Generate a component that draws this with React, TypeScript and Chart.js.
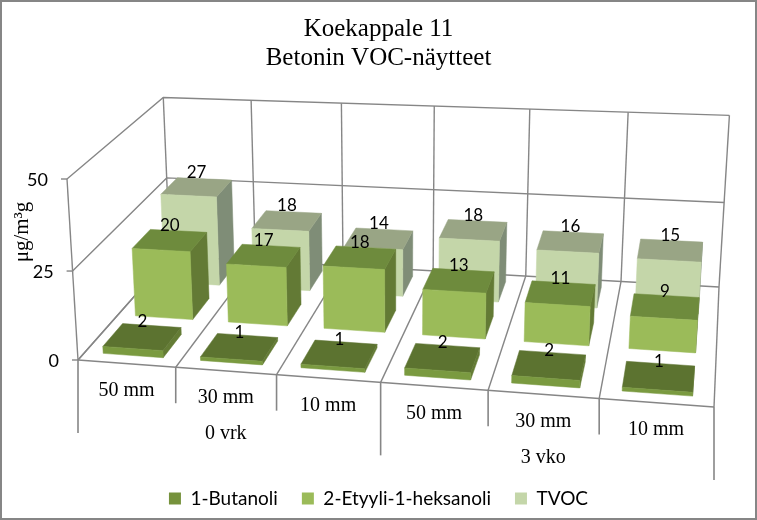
import { useEffect, useRef } from 'react'
import Chart from 'chart.js/auto'

const categories = ['50 mm', '30 mm', '10 mm', '50 mm', '30 mm', '10 mm']
const groups = ['0 vrk', '3 vko']
const butanoli = [2, 1, 1, 2, 2, 1]
const heksanoli = [20, 17, 18, 13, 11, 9]
const tvoc = [27, 18, 14, 18, 16, 15]
const yTicks = [0, 25, 50]

const GRID = '#868686'
const SERIF = '"Liberation Serif"'
const SANS = 'Lato'

// front, top and side colours per series
const faces = [
  { front: '#7A9A40', top: '#5C7330', side: '#647C35' },
  { front: '#9BBB59', top: '#6E8B3D', side: '#637A35' },
  { front: '#C4D6A9', top: '#99A585', side: '#7F8D77' },
]

// Corners of the 3D box in the picture: floor front-left, front-right, back-right, back-left
const floor = [[78, 360], [714, 407], [719, 287], [170, 256]]
const frontLeftTop = [67, 179]
const backRightTop = [729, 122]

const makeProjection = () => {
  const [[x0, y0], [x1, y1], [x2, y2], [x3, y3]] = floor
  const dx1 = x1 - x2, dx2 = x3 - x2, sx = x0 - x1 + x2 - x3
  const dy1 = y1 - y2, dy2 = y3 - y2, sy = y0 - y1 + y2 - y3
  const den = dx1 * dy2 - dx2 * dy1
  const g = (sx * dy2 - dx2 * sy) / den
  const h = (dx1 * sy - sx * dy1) / den
  const a = x1 - x0 + g * x1, b = x3 - x0 + h * x3, c = x0
  const d = y1 - y0 + g * y1, e = y3 - y0 + h * y3, f = y0

  // vanishing point of the verticals, from the two outer wall edges
  const m1 = (frontLeftTop[0] - x0) / (frontLeftTop[1] - y0)
  const m2 = (backRightTop[0] - x2) / (backRightTop[1] - y2)
  const vpY = (x2 - m2 * y2 - x0 + m1 * y0) / (m1 - m2)
  const vpX = x0 + m1 * (vpY - y0)
  const lambda = (frontLeftTop[1] - y0) / (vpY - frontLeftTop[1])

  return (u: number, v: number, w: number) => {
    const z = g * u + h * v + lambda * w + 1
    return [(a * u + b * v + lambda * vpX * w + c) / z, (d * u + e * v + lambda * vpY * w + f) / z]
  }
}

const project = makeProjection()

const chart3d = {
  id: 'chart3d',
  beforeDatasetsDraw(chart: any) {
    const { ctx, chartArea: area, scales } = chart
    const n = categories.length
    const toU = (px: number) => (px - area.left) / area.width
    const toW = (px: number) => (area.bottom - px) / area.height

    const line = (pts: number[][], color = GRID, width = 1.4) => {
      ctx.beginPath()
      pts.forEach(([x, y], i) => (i ? ctx.lineTo(x, y) : ctx.moveTo(x, y)))
      ctx.strokeStyle = color
      ctx.lineWidth = width
      ctx.stroke()
    }
    const poly = (pts: number[][], color: string) => {
      ctx.beginPath()
      pts.forEach(([x, y], i) => (i ? ctx.lineTo(x, y) : ctx.moveTo(x, y)))
      ctx.closePath()
      ctx.fillStyle = color
      ctx.fill()
      ctx.strokeStyle = color
      ctx.lineWidth = 0.5
      ctx.stroke()
    }

    ctx.save()

    // walls and floor
    yTicks.forEach((t) => {
      const w = toW(scales.y.getPixelForValue(t))
      line([project(0, 0, w), project(0, 1, w), project(1, 1, w)])
      const p = project(0, 0, w)
      line([[p[0] - 6, p[1]], p])
      ctx.fillStyle = '#000'
      ctx.font = `18px ${SANS}`
      ctx.textAlign = 'right'
      ctx.textBaseline = 'middle'
      ctx.fillText(String(t), p[0] - 19, p[1] + 1)
    })
    line([project(0, 0, 0), project(0, 0, 1)])
    for (let i = 0; i <= n; i++) {
      const u = i / n
      line([project(u, 1, 0), project(u, 1, 1)])
      line([project(u, 0, 0), project(u, 1, 0)])
    }
    line([project(0, 0, 0), project(1, 0, 0)])

    // category axis below the floor
    for (let i = 0; i <= n; i++) {
      const p = project(i / n, 0, 0)
      line([p, [p[0], p[1] + (i % 3 === 0 ? 73 : 36)]], GRID, 1.6)
    }
    ctx.fillStyle = '#000'
    ctx.textAlign = 'center'
    ctx.textBaseline = 'middle'
    ctx.font = `20px ${SERIF}`
    categories.forEach((label, i) => {
      const p = project((i + 0.5) / n, 0, 0)
      ctx.fillText(label, p[0], p[1] + 27)
    })
    groups.forEach((label, i) => {
      const p = project((i * 3 + 1.5) / n, 0, 0)
      ctx.fillText(label, p[0], p[1] + 63)
    })

    // axis title
    ctx.save()
    ctx.translate(22, 232)
    ctx.rotate(-Math.PI / 2)
    ctx.font = `21px ${SERIF}`
    ctx.fillText('μg/m³g', 0, 0)
    ctx.restore()

    // bars, back row first
    const labels: { text: string; x: number; y: number }[] = []
    const slot = 1 / 3
    const barDepth = slot * 0.6
    for (let s = 2; s >= 0; s--) {
      const meta = chart.getDatasetMeta(s)
      const v0 = (s + 0.5) * slot - barDepth / 2
      const v1 = v0 + barDepth
      meta.data.forEach((bar: any, i: number) => {
        const u0 = toU(bar.x - bar.width / 2)
        const u1 = toU(bar.x + bar.width / 2)
        const top = toW(bar.y)
        poly([project(u1, v0, 0), project(u1, v1, 0), project(u1, v1, top), project(u1, v0, top)], faces[s].side)
        poly([project(u0, v0, top), project(u1, v0, top), project(u1, v1, top), project(u0, v1, top)], faces[s].top)
        poly([project(u0, v0, 0), project(u1, v0, 0), project(u1, v0, top), project(u0, v0, top)], faces[s].front)
        const c = project((u0 + u1) / 2, (v0 + v1) / 2, top)
        labels.push({ text: String(chart.data.datasets[s].data[i]), x: c[0], y: c[1] - 15 })
      })
    }
    ctx.fillStyle = '#000'
    ctx.font = `17px ${SANS}`
    labels.forEach((l) => ctx.fillText(l.text, l.x, l.y))

    ctx.restore()
    return false
  },
  afterDraw(chart: any) {
    const { ctx, width, height } = chart
    ctx.save()
    ctx.strokeStyle = GRID
    ctx.lineWidth = 3
    ctx.strokeRect(0.5, 0.5, width - 1, height - 1)
    ctx.restore()
  },
}

export default function App() {
  const canvasRef = useRef<HTMLCanvasElement>(null)

  useEffect(() => {
    if (!canvasRef.current) return
    const chart = new Chart(canvasRef.current, {
      type: 'bar',
      data: {
        labels: categories,
        datasets: [
          { label: '1-Butanoli', data: butanoli, backgroundColor: '#76923C' },
          { label: '2-Etyyli-1-heksanoli', data: heksanoli, backgroundColor: '#9BBB59' },
          { label: 'TVOC', data: tvoc, backgroundColor: '#C4D6A9' },
        ],
      },
      options: {
        responsive: false,
        animation: false,
        devicePixelRatio: 1,
        layout: { padding: { bottom: 2 } },
        datasets: { bar: { grouped: false, categoryPercentage: 1, barPercentage: 0.62 } },
        scales: {
          x: { display: false },
          y: { display: false, min: 0, max: 50, ticks: { stepSize: 25 } },
        },
        plugins: {
          title: {
            display: true,
            text: ['Koekappale 11', 'Betonin VOC-näytteet'],
            color: '#000',
            font: { family: SERIF, size: 25, weight: 'normal', lineHeight: 1.16 },
            padding: { top: 15, bottom: 10 },
          },
          legend: {
            position: 'bottom',
            labels: { boxWidth: 12, boxHeight: 12, color: '#000', padding: 24, font: { family: SANS, size: 19 } },
          },
          tooltip: { enabled: false },
        },
      },
      plugins: [chart3d],
    } as any)
    return () => chart.destroy()
  }, [])

  return (
    <div style={{ position: 'fixed', left: 0, top: 0, width: 757, height: 520, background: '#fff' }}>
      <canvas ref={canvasRef} width={757} height={520} style={{ display: 'block' }}></canvas>
    </div>
  )
}
